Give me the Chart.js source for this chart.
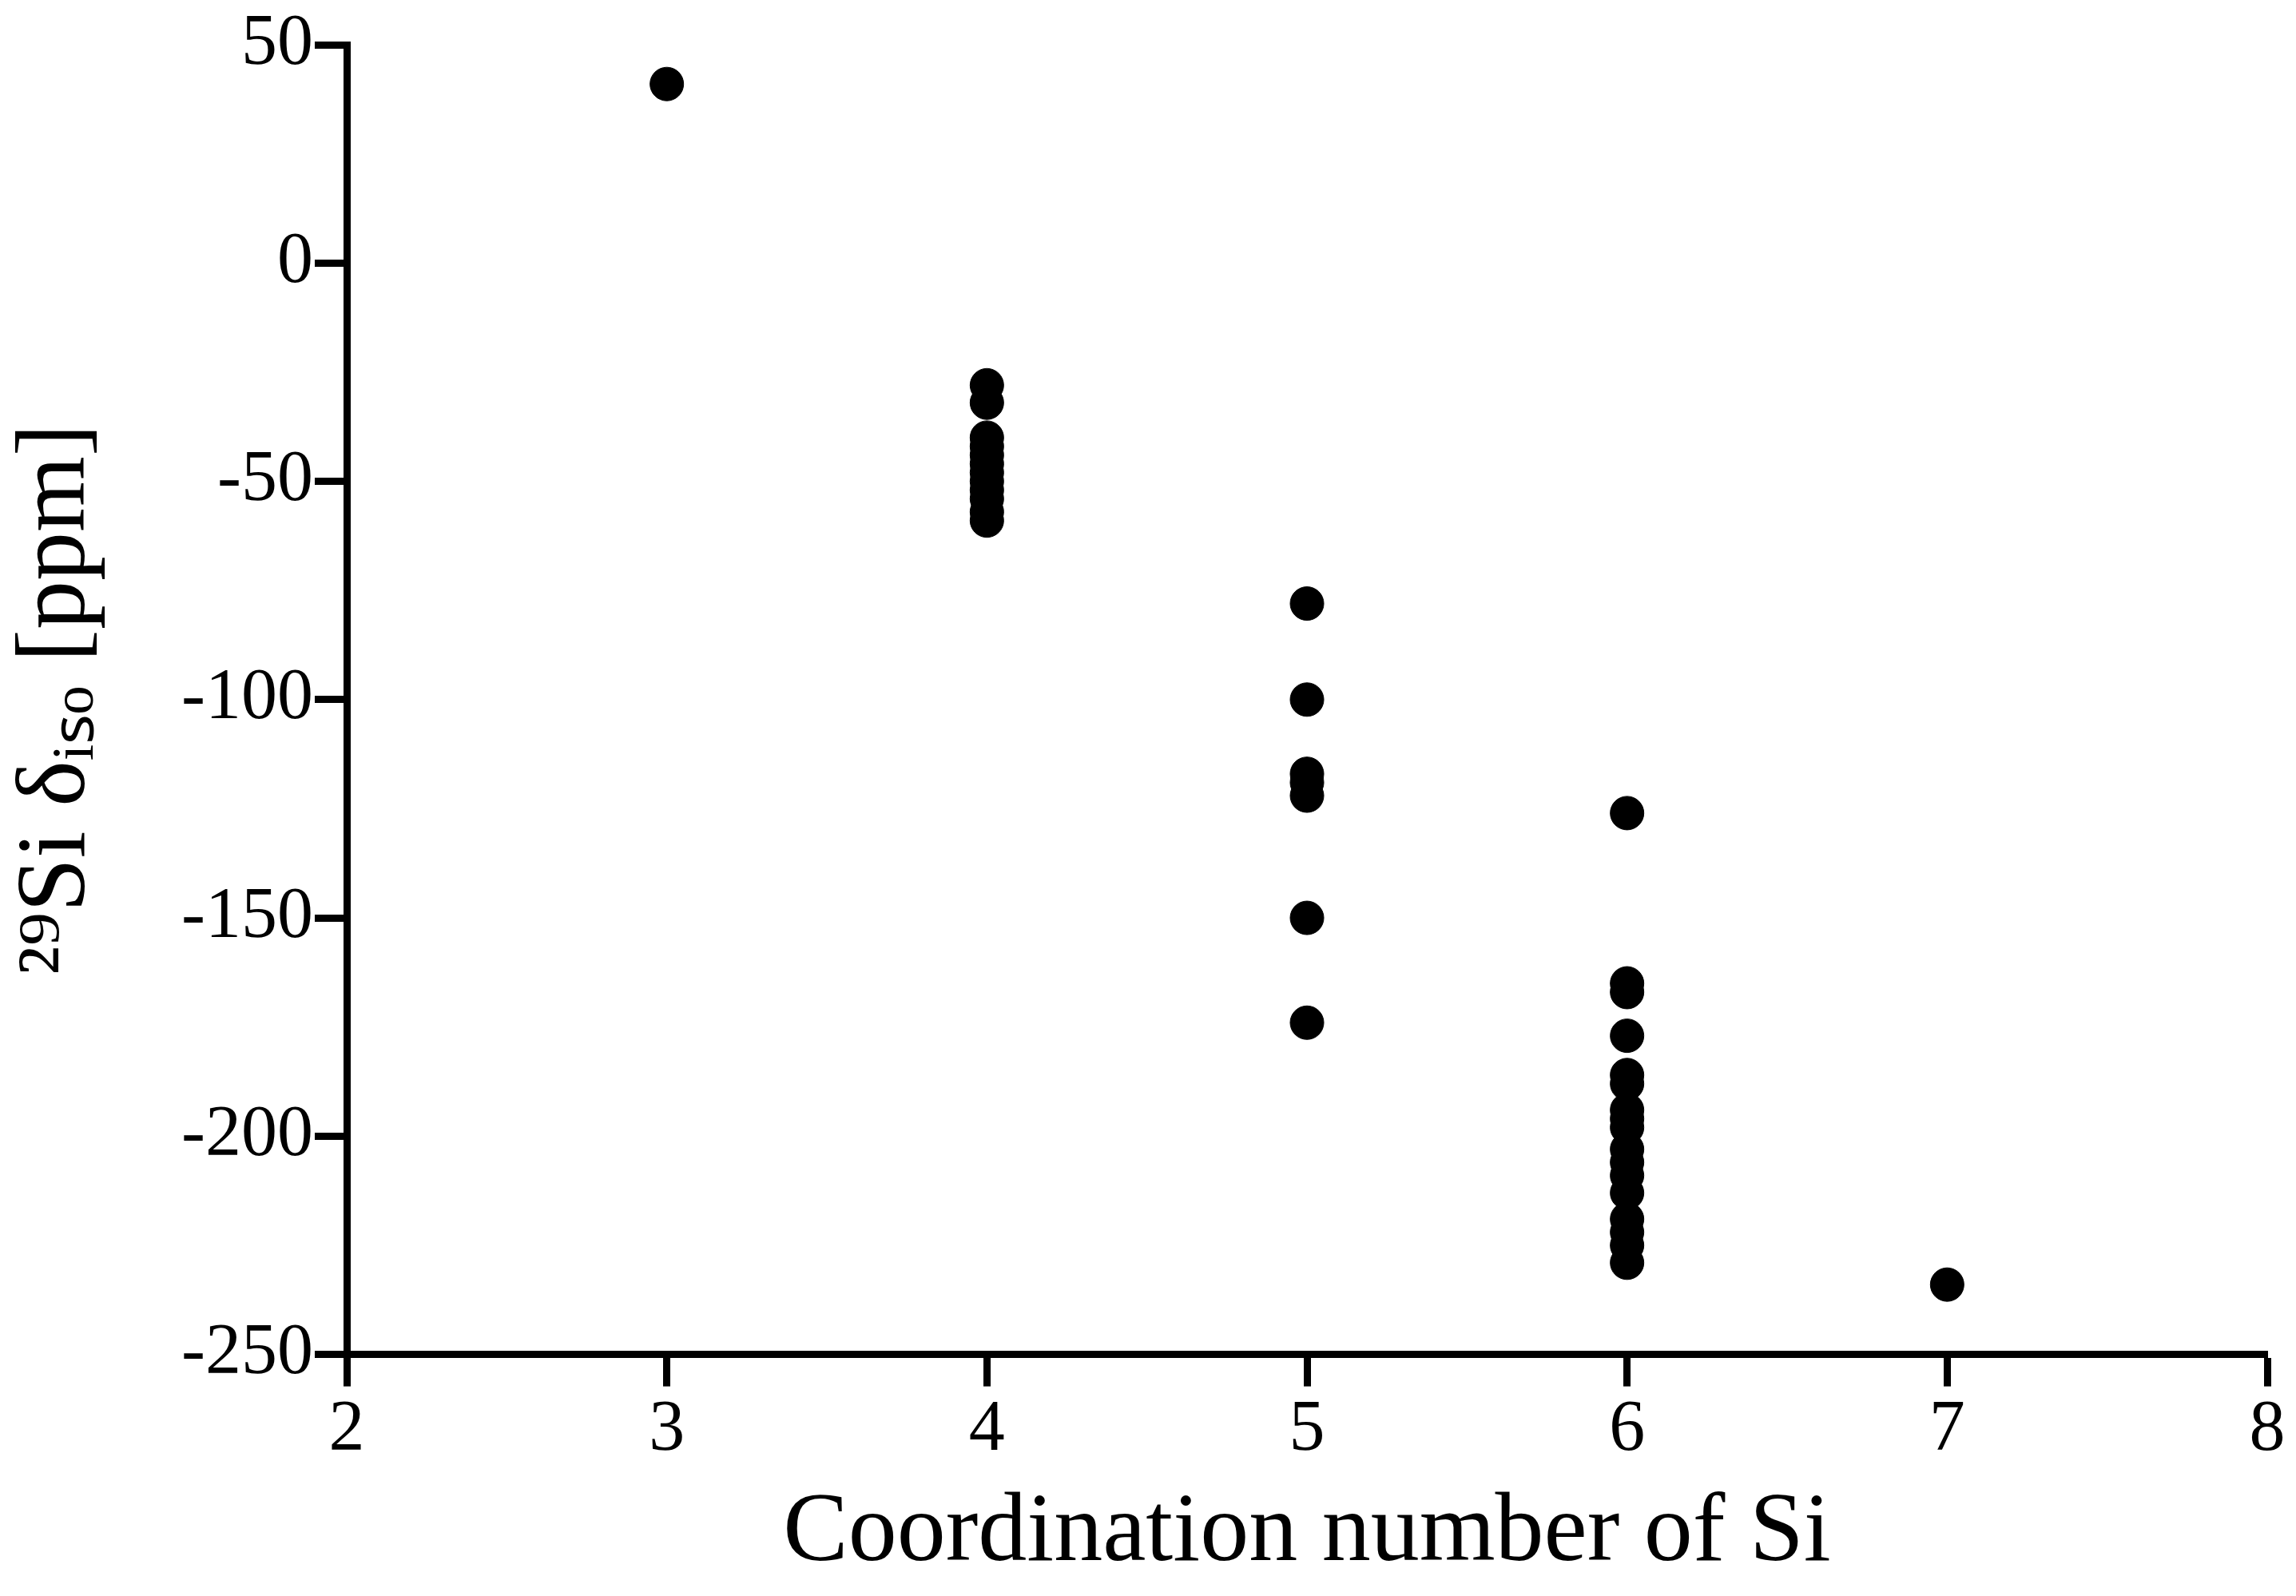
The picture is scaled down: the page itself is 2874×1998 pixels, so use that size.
<!DOCTYPE html>
<html><head><meta charset="utf-8">
<script src="https://cdn.jsdelivr.net/npm/chart.js@4"></script>
<style>html,body{margin:0;padding:0;background:#fff}</style>
</head><body>
<canvas id="c" width="2874" height="1998"></canvas>
<script>
const xCoord = [3, 4,4,4,4,4,4,4,4,4,4,4,4, 5,5,5,5,5,5,5, 6,6,6,6,6,6,6,6,6,6,6,6,6,6,6,6,6, 7];
const yShift = [41, -28,-32,-40,-42,-44,-46,-48,-50,-52,-54,-57,-59,
  -78,-100,-117,-119,-122,-150,-174,
  -126,-165,-167,-177,-186,-188,-194,-196,-198,-203,-206,-209,-213,-219,-222,-225,-229,
  -234];
const xTicks = [2,3,4,5,6,7,8];
const yTicks = [50,0,-50,-100,-150,-200,-250];
const pts = xCoord.map((x,i)=>({x, y:yShift[i]}));
const font = {family:'"Liberation Serif", serif', size:90};
new Chart(document.getElementById('c'), {
  type:'scatter',
  data:{datasets:[{data:pts, backgroundColor:'#000', borderColor:'#000', pointRadius:21, pointHoverRadius:21}]},
  options:{
    responsive:false, devicePixelRatio:1, animation:false,
    layout:{padding:{top:42,right:36,left:0,bottom:0}},
    plugins:{legend:{display:false}, tooltip:{enabled:false}},
    scales:{
      x:{type:'linear', min:2, max:8,
        afterBuildTicks:s=>{s.ticks=xTicks.map(v=>({value:v}));},
        grid:{drawOnChartArea:false, tickLength:40, tickWidth:9, color:'#000'},
        border:{width:9, color:'#000'},
        ticks:{font, color:'#000', padding:2, maxRotation:0},
        title:{display:true, text:'Coordination number of Si', font:{family:font.family, size:122}, color:'#000', padding:{top:0,bottom:4}}
      },
      y:{type:'linear', min:-250, max:50,
        afterBuildTicks:s=>{s.ticks=yTicks.map(v=>({value:v}));},
        afterFit:s=>{s.width=434;},
        grid:{drawOnChartArea:false, tickLength:40, tickWidth:9, color:'#000'},
        border:{width:9, color:'#000'},
        ticks:{font, color:'#000', padding:2},
        title:{display:true, text:'²⁹Si δᵢₛₒ [ppm]', font:{family:font.family, size:122}, color:'#000', padding:{top:0,bottom:0}}
      }
    }
  }
});
</script>
</body></html>
